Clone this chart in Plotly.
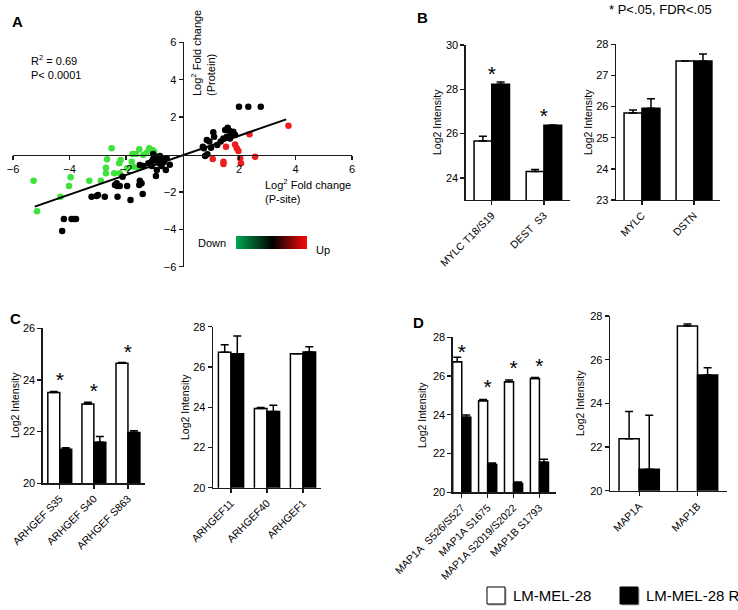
import plotly.graph_objects as go

W, H = 738, 610
FONT = "Liberation Sans, Arial, sans-serif"

# ---------------- Panel A data ----------------
green_x = [-5.27, -5.15, -4.32, -4.02, -3.96, -3.30, -2.89, -2.71, -2.71, -2.67, -2.51, -2.42, -2.22,
           -2.24, -2.19, -1.96, -1.80, -1.77, -1.65, -1.53, -1.39, -1.27, -1.18, -1.06, -1.56, -1.74, -1.00]
green_y = [-1.40, -3.04, -2.26, -1.68, -1.22, -1.40, -1.40, -1.00, -0.71, -0.26, 0.33, -1.00, -1.00,
           -0.47, -0.29, -0.74, -0.39, 0.03, 0.03, 0.28, -0.03, 0.10, 0.33, 0.24, -0.74, -0.65, 0.15]
black_x = [-4.26, -4.20, -3.93, -3.85, -3.77, -3.22, -3.04, -2.99, -2.75, -2.30, -2.39, -2.30, -2.22,
           -2.33, -1.96, -1.84, -2.12, -1.51, -1.45, -1.41, -1.53, -1.51, -1.39, -1.21, -1.09, -1.04,
           -0.98, -0.91, -0.86, -0.80, -0.70, -0.66, -0.56, -0.91, -0.94, -0.74, -0.59, -1.09, -0.82,
           -1.04, -0.45,
           2.00, 2.33, 2.77, 1.60, 1.66, 1.51, 1.09, 1.12, 0.86, 0.95, 0.72, 0.76, 1.01, 1.23, 1.35,
           1.45, 1.57, 1.71, 1.80, 1.86, 1.68, 0.80, 0.88]
black_y = [-4.09, -3.45, -3.45, -3.45, -3.45, -2.26, -2.22, -2.17, -2.26, -2.26, -1.63, -1.68, -1.68,
           -1.54, -1.68, -2.43, -1.19, -1.40, -1.54, -2.11, -1.63, -0.56, -0.61, -0.47, -0.38, -0.26,
           -0.12, -0.33, -0.20, -0.08, -0.26, -0.40, -0.20, -0.83, -1.15, -0.61, -0.83, -0.61, -0.47,
           0.03, -0.55,
           2.56, 2.56, 2.56, 1.43, 1.27, 1.31, 1.19, 0.95, 0.78, 0.69, 0.42, 0.33, 0.36, 0.51, 0.69,
           0.86, 0.95, 1.08, 1.22, 1.04, 0.86, -0.08, 0.01]
red_x = [1.07, 1.45, 1.45, 1.54, 1.86, 1.92, 1.98, 2.04, 2.07, 2.37, 2.57, 3.75]
red_y = [-0.24, -0.39, -0.51, 0.42, 0.54, 0.33, 0.19, -0.20, -0.47, 1.08, -0.12, 1.54]
fit_x = [-5.23, 3.67]
fit_y = [-2.79, 1.88]
a_ticks = [-6, -4, -2, 2, 4, 6]
gradient_levels = [-1, 0, 1]

# ---------------- Bar panel data ----------------
series_names = ["LM-MEL-28", "LM-MEL-28 R"]

b1_cats = ["MYLC T18/S19", "DEST\u00a0 S3"]
b1_white = [25.67, 24.29]; b1_white_err = [0.21, 0.09]
b1_black = [28.23, 26.38]; b1_black_err = [0.10, 0.01]
b1_star = [28.62, 26.72]

b2_cats = ["MYLC", "DSTN"]
b2_white = [25.79, 27.46]; b2_white_err = [0.10, 0.0]
b2_black = [25.95, 27.46]; b2_black_err = [0.30, 0.23]

c1_cats = ["ARHGEF S35", "ARHGEF S40", "ARHGEF S863"]
c1_white = [23.51, 23.07, 24.65]; c1_white_err = [0.04, 0.07, 0.03]
c1_black = [21.32, 21.59, 21.97]; c1_black_err = [0.06, 0.22, 0.06]
c1_star = [23.95, 23.52, 25.02]

c2_cats = ["ARHGEF11", "ARHGEF40", "ARHGEF1"]
c2_white = [26.73, 23.94, 26.66]; c2_white_err = [0.37, 0.05, 0.0]
c2_black = [26.66, 23.79, 26.74]; c2_black_err = [0.88, 0.31, 0.26]

d1_cats = ["MAP1A\u00a0 S526/S527", "MAP1A S1675", "MAP1A S2019/S2022", "MAP1B S1793"]
d1_white = [26.74, 24.73, 25.71, 25.87]; d1_white_err = [0.23, 0.06, 0.09, 0.05]
d1_black = [23.87, 21.43, 20.46, 21.55]; d1_black_err = [0.12, 0.08, 0.07, 0.15]
d1_star = [27.15, 25.37, 26.30, 26.44]

d2_cats = ["MAP1A", "MAP1B"]
d2_white = [22.38, 27.54]; d2_white_err = [1.25, 0.09]
d2_black = [20.98, 25.30]; d2_black_err = [2.47, 0.33]


def px(p):
    return p / W


def py(p):
    return 1 - p / H


fig = go.Figure()
LINE = "#1a1a1a"

# ---------------- Panel A ----------------
for xs, ys, col in [(green_x, green_y, "#3ee23a"), (black_x, black_y, "#000000"), (red_x, red_y, "#ee1c1c")]:
    fig.add_trace(go.Scatter(x=xs, y=ys, mode="markers", xaxis="x", yaxis="y",
                             marker=dict(color=col, size=6.5, line=dict(width=0)), showlegend=False))
fig.add_trace(go.Scatter(x=fit_x, y=fit_y, mode="lines", xaxis="x", yaxis="y",
                         line=dict(color="black", width=2), showlegend=False))

fig.add_trace(go.Heatmap(z=[gradient_levels], x=[0, 1, 2], y=[0], xaxis="x2", yaxis="y2",
                         zsmooth="best", showscale=False, hoverinfo="skip",
                         colorscale=[[0, "#00a651"], [0.5, "#000000"], [1, "#ff0a0a"]]))

layout = dict(
    width=W, height=H, margin=dict(l=0, r=0, t=0, b=0, autoexpand=False),
    paper_bgcolor="white", plot_bgcolor="rgba(0,0,0,0)",
    font=dict(family=FONT, size=11, color="black"),
    showlegend=False,
    xaxis=dict(domain=[px(13), px(352)], range=[-6, 6], anchor="free", position=py(154.5),
               tickvals=a_ticks, ticks="outside", ticklen=4, tickwidth=1.3, tickcolor=LINE,
               showline=True, linewidth=1.6, linecolor=LINE, showgrid=False, zeroline=False,
               tickfont=dict(size=11), automargin=False),
    yaxis=dict(domain=[py(266.7), py(42.3)], range=[-6, 6], anchor="free", position=px(182.5),
               tickvals=a_ticks, ticks="outside", ticklen=4, tickwidth=1.3, tickcolor=LINE,
               showline=True, linewidth=1.6, linecolor=LINE, showgrid=False, zeroline=False,
               tickfont=dict(size=11), automargin=False),
    xaxis2=dict(domain=[px(236), px(307)], range=[0, 2], anchor="y2", visible=False, automargin=False),
    yaxis2=dict(domain=[py(249), py(236)], range=[-0.5, 0.5], anchor="x2", visible=False, automargin=False),
)


def bar_panel(n, cats, white, werr, black, berr, xdom, ydom, xr, yr, yticks, bw, star=None):
    xa, ya = f"x{n}", f"y{n}"
    idx = list(range(len(cats)))
    fig.add_trace(go.Bar(x=idx, y=white, base=0, width=bw, offset=-bw, xaxis=xa, yaxis=ya,
                         marker=dict(color="white", line=dict(color="black", width=1.5)),
                         error_y=dict(type="data", symmetric=False, array=werr, arrayminus=[0] * len(cats),
                                      color="black", thickness=1.5, width=4),
                         showlegend=False, name=series_names[0]))
    fig.add_trace(go.Bar(x=idx, y=black, base=0, width=bw, offset=0, xaxis=xa, yaxis=ya,
                         marker=dict(color="black", line=dict(color="black", width=1.5)),
                         error_y=dict(type="data", symmetric=False, array=berr, arrayminus=[0] * len(cats),
                                      color="black", thickness=1.5, width=4),
                         showlegend=False, name=series_names[1]))
    if star is not None:
        fig.add_trace(go.Scatter(x=idx, y=star, mode="text", text=["*"] * len(cats), xaxis=xa, yaxis=ya,
                                 textfont=dict(size=21, color="black", family=FONT),
                                 textposition="middle center", showlegend=False, hoverinfo="skip"))
    layout[f"xaxis{n}"] = dict(domain=[px(xdom[0]), px(xdom[1])], range=xr, anchor=ya,
                               tickvals=idx, ticktext=cats, tickangle=-45, ticks="outside", ticklen=4,
                               tickwidth=1.3, tickcolor=LINE, showline=True, linewidth=1.3, linecolor=LINE,
                               showgrid=False, zeroline=False, tickfont=dict(size=10.5), automargin=False)
    layout[f"yaxis{n}"] = dict(domain=[py(ydom[1]), py(ydom[0])], range=yr, anchor=xa,
                               tickvals=yticks, ticks="outside", ticklen=4, tickwidth=1.3, tickcolor=LINE,
                               showline=True, linewidth=1.3, linecolor=LINE, showgrid=False,
                               zeroline=False, tickfont=dict(size=11), automargin=False)


bar_panel(3, b1_cats, b1_white, b1_white_err, b1_black, b1_black_err,
          (465.7, 570), (45, 200), [-0.5, 1.5], [23, 30], [24, 26, 28, 30], 0.34, b1_star)
bar_panel(4, b2_cats, b2_white, b2_white_err, b2_black, b2_black_err,
          (616, 720), (44.3, 200), [-0.5, 1.5], [23, 28], [23, 24, 25, 26, 27, 28], 0.345)
bar_panel(5, c1_cats, c1_white, c1_white_err, c1_black, c1_black_err,
          (42.7, 145), (328.3, 483.3), [-0.5, 2.5], [20, 26], [20, 22, 24, 26], 0.35, c1_star)
bar_panel(6, c2_cats, c2_white, c2_white_err, c2_black, c2_black_err,
          (213, 321), (326.7, 487.7), [-0.5, 2.5], [20, 28], [20, 22, 24, 26, 28], 0.35)
bar_panel(7, d1_cats, d1_white, d1_white_err, d1_black, d1_black_err,
          (452.7, 556), (337.3, 492.3), [-0.35, 3.64], [20, 28], [20, 22, 24, 26, 28], 0.35, d1_star)
bar_panel(8, d2_cats, d2_white, d2_white_err, d2_black, d2_black_err,
          (610, 726.7), (316, 490.7), [-0.5, 1.5], [20, 28], [20, 22, 24, 26, 28], 0.345)

ann = []


def text(x, y, s, size=11, xa="center", ya="middle", angle=0, align="center", bold=False):
    ann.append(dict(x=px(x), y=py(y), xref="paper", yref="paper", text=f"<b>{s}</b>" if bold else s,
                    showarrow=False, xanchor=xa, yanchor=ya, textangle=angle, align=align,
                    font=dict(size=size, family=FONT, color="black")))


# panel letters
text(17, 22, "A", 15, bold=True)
text(423, 18, "B", 15, bold=True)
text(15, 318, "C", 15, bold=True)
text(418, 322, "D", 15, bold=True)
text(660, 9, "* P<.05, FDR<.05", 13)

# panel A texts
text(29, 67, "R<sup>2</sup> = 0.69<br>P< 0.0001", 11, xa="left", align="left")
text(203, 53, "Log<sup>2</sup> Fold change<br>(Protein)", 11, angle=-90, align="left")
text(263, 191, "Log<sup>2</sup> Fold change<br>(P-site)", 11, xa="left", align="left")
text(212, 243, "Down", 11)
text(323, 250, "Up", 11)

# y-axis titles of bar panels
for x, y in [(437, 122), (588, 122), (15, 405), (185, 407), (422, 415), (580, 403)]:
    text(x, y, "Log2 Intensity", 10.5, angle=-90)

# legend
shapes = []
for x0, fill in [(487, "white"), (620, "black")]:
    shapes.append(dict(type="rect", xref="paper", yref="paper", x0=px(x0 + 1.5), x1=px(x0 + 19.5),
                       y0=py(605.5), y1=py(588.5), fillcolor="#b0b0b0", line=dict(width=0), layer="below"))
    shapes.append(dict(type="rect", xref="paper", yref="paper", x0=px(x0), x1=px(x0 + 18),
                       y0=py(604), y1=py(587), fillcolor=fill, line=dict(color="black", width=1)))
text(511, 595, series_names[0], 15, xa="left")
text(644, 595, series_names[1], 15, xa="left")

layout["annotations"] = ann
layout["shapes"] = shapes
layout["bargap"] = 0
fig.update_layout(**layout)
fig.write_html("out.html", config={"displayModeBar": False, "staticPlot": True},
               post_script="document.body.style.margin='0';document.body.style.padding='0';"
                           "document.body.style.overflow='hidden';")
